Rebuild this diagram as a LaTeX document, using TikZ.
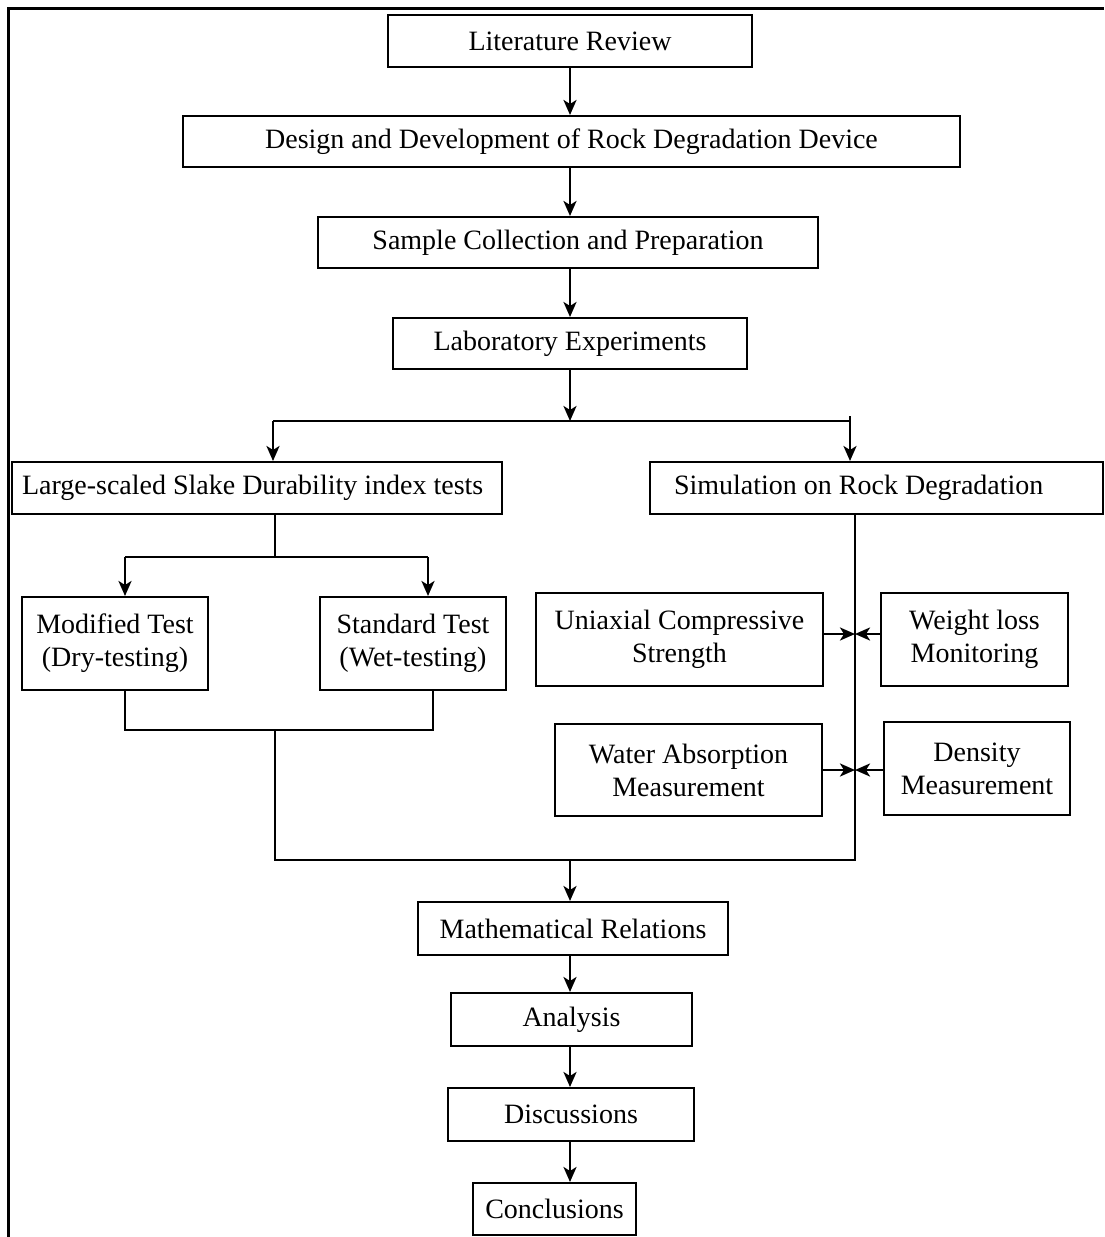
\documentclass[tikz,border=0pt]{standalone}
\usepackage{fontspec}
\setmainfont{Liberation Serif}
\usetikzlibrary{arrows.meta}
\begin{document}
\begin{tikzpicture}[x=1pt,y=-1pt,
  box/.style={draw, line width=2pt, inner sep=0pt, align=center,
    font=\fontsize{28}{33}\selectfont},
  lbox/.style={draw, line width=2pt, inner ysep=0pt, align=flush left,
    font=\fontsize{28}{33}\selectfont},
  conn/.style={line width=2pt},
  arr/.style={line width=2.6pt, -{Stealth[length=15pt,width=13pt,inset=4pt]}},
  frame/.style={line width=3pt}]
\useasboundingbox (0,0) rectangle (1104,1237);
\draw[frame] (8,1237) -- (8,8) -- (1104,8);

\node[box, minimum width=364pt, minimum height=52pt] (lit) at (570,41) {Literature Review};
\node[box, minimum width=777pt, minimum height=51pt] (des) at (571.5,141.5) {Design and Development of Rock Degradation Device};
\node[box, minimum width=500pt, minimum height=51pt] (smp) at (568,242.5) {Sample Collection and Preparation};
\node[box, minimum width=354pt, minimum height=51pt] (lab) at (570,343.5) {Laboratory Experiments};

\node[lbox, inner xsep=10pt, text width=470pt, minimum height=52pt] (lrg) at (257,488) {\spaceskip=0pt\xspaceskip=0pt\relax\mbox{Large-scaled Slake Durability index tests}};
\node[lbox, inner xsep=24pt, text width=405pt, minimum height=52pt] (sim) at (876.5,488) {\spaceskip=0pt\xspaceskip=0pt\relax\mbox{Simulation on Rock Degradation}};

\node[box, minimum width=186pt, minimum height=93pt] (mod) at (115,643.5) {Modified Test\\(Dry-testing)};
\node[box, minimum width=186pt, minimum height=93pt] (std) at (413,643.5) {Standard Test\\(Wet-testing)};

\node[box, minimum width=287pt, minimum height=93pt] (ucs) at (679.5,639.5) {Uniaxial Compressive\\Strength};
\node[box, minimum width=187pt, minimum height=93pt] (wl) at (974.5,639.5) {Weight loss\\Monitoring};
\node[box, minimum width=267pt, minimum height=92pt] (wa) at (688.5,770) {Water Absorption\\Measurement};
\node[box, minimum width=186pt, minimum height=93pt] (den) at (977,768.5) {Density\\Measurement};

\node[box, minimum width=310pt, minimum height=53pt] (mat) at (573,928.5) {Mathematical Relations};
\node[box, minimum width=241pt, minimum height=53pt] (ana) at (571.5,1019.5) {Analysis};
\node[box, minimum width=246pt, minimum height=53pt] (dis) at (571,1114.5) {Discussions};
\node[box, minimum width=163pt, minimum height=52pt] (con) at (554.5,1209) {Conclusions};

\coordinate (xc) at (570,0);
\draw[arr] (lit.south -| xc) -- (des.north -| xc);
\draw[arr] (des.south -| xc) -- (smp.north -| xc);
\draw[arr] (smp.south -| xc) -- (lab.north -| xc);

\coordinate (jA) at (570,421);
\coordinate (hL) at (273,421);
\coordinate (hR) at (850,421);
\coordinate (hRt) at (850,416);
\draw[arr] (lab.south -| xc) -- (jA);
\draw[conn] (hL) -- (hR);
\draw[arr] (hL) -- (hL |- lrg.north);
\draw[arr] (hRt) -- (hRt |- sim.north);

\coordinate (bL) at (275,557);
\coordinate (bl1) at (125,557);
\coordinate (bl2) at (428,557);
\draw[conn] (bL |- lrg.south) -- (bL);
\draw[conn] (bl1) -- (bl2);
\draw[arr] (bl1) -- (bl1 |- mod.north);
\draw[arr] (bl2) -- (bl2 |- std.north);

\coordinate (cl1) at (125,730);
\coordinate (cl2) at (433,730);
\draw[conn] (cl1 |- mod.south) -- (cl1) -- (cl2) -- (cl2 |- std.south);

\coordinate (dL) at (275,730);
\coordinate (dR) at (855,860);
\coordinate (dM) at (570,860);
\draw[conn] (dL) |- (dR) -- (dR |- sim.south);
\draw[arr] (dM) -- (dM |- mat.north);

\coordinate (yU) at (0,634);
\draw[arr] (ucs.east |- yU) -- (dR |- yU);
\draw[arr] (wl.west |- yU) -- (dR |- yU);
\draw[arr] (wa.east) -- (dR |- wa.east);
\draw[arr] (den.west |- wa.east) -- (dR |- wa.east);

\draw[arr] (mat.south -| xc) -- (ana.north -| xc);
\draw[arr] (ana.south -| xc) -- (dis.north -| xc);
\draw[arr] (dis.south -| xc) -- (con.north -| xc);
\end{tikzpicture}
\end{document}
